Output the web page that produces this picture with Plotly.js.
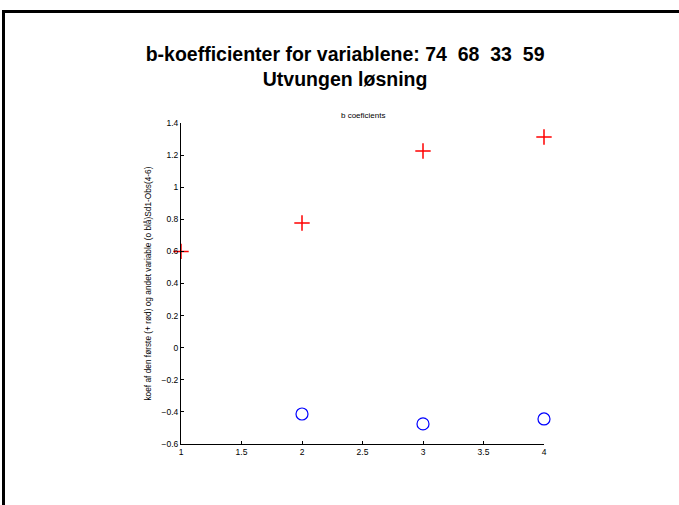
<!DOCTYPE html>
<html>
<head>
<meta charset="utf-8">
<script src="https://cdn.plot.ly/plotly-3.0.1.min.js"></script>
<style>
html,body{margin:0;padding:0;background:#fff;}
#wrap{position:relative;width:679px;height:505px;overflow:hidden;}
#chart{position:absolute;left:0;top:0;width:679px;height:505px;}
#frame{position:absolute;left:2px;top:10px;width:800px;height:600px;border-left:3px solid #000;border-top:3px solid #000;pointer-events:none;}
</style>
</head>
<body>
<div id="wrap"><div id="chart"></div><div id="frame"></div></div>
<script>
// Data
const xFirst = [1, 2, 3, 4];
const firstVariable = [0.60, 0.777, 1.226, 1.313];   // red '+'
const xSecond = [2, 3, 4];
const secondVariable = [-0.413, -0.475, -0.444];     // blue 'o'

const titleLines = ['b-koefficienter for variablene: 74  68  33  59', 'Utvungen løsning'];
const subTitle = 'b coeficients';
const yTitle = 'koef af den første (+ rød) og andet variable (o blå)Sd1-Obs(4-6)';

const traces = [
  {
    x: xFirst, y: firstVariable, type: 'scatter', mode: 'markers',
    marker: {symbol: 'cross-thin-open', size: 11, color: '#ff0000', line: {color: '#ff0000', width: 1.5}},
    cliponaxis: false, showlegend: false, hoverinfo: 'none'
  },
  {
    x: xSecond, y: secondVariable, type: 'scatter', mode: 'markers',
    marker: {symbol: 'circle-open', size: 12, color: '#0000ff', line: {color: '#0000ff', width: 1.2}},
    cliponaxis: false, showlegend: false, hoverinfo: 'none'
  }
];

const FONT = 'Liberation Sans, Arial, sans-serif';
const axisCommon = {
  showline: true, linecolor: '#000', linewidth: 1,
  ticks: 'inside', ticklen: 3, tickcolor: '#000', tickwidth: 1,
  showgrid: false, zeroline: false,
  tickfont: {family: FONT, size: 8.5, color: '#000'},
  mirror: false
};

const layout = {
  width: 679, height: 505,
  paper_bgcolor: '#fff', plot_bgcolor: '#fff',
  margin: {l: 181, r: 135, t: 123, b: 61, pad: 0},
  font: {family: FONT, color: '#000'},
  title: {
    text: titleLines.map(s => '<b>' + s + '</b>').join('<br>'),
    font: {family: FONT, size: 19.5, color: '#000'},
    x: 0.452, xanchor: 'center', xref: 'paper',
    y: 1, yanchor: 'bottom', yref: 'paper', pad: {b: 62}
  },
  xaxis: Object.assign({}, axisCommon, {
    range: [1, 4], tickmode: 'linear', tick0: 1, dtick: 0.5
  }),
  yaxis: Object.assign({}, axisCommon, {
    range: [-0.6, 1.4], tickmode: 'linear', tick0: -0.6, dtick: 0.2,
    title: {text: yTitle, font: {family: FONT, size: 8.3, color: '#000'}, standoff: 8}
  }),
  annotations: [
    {text: subTitle, xref: 'paper', yref: 'paper', x: 0.5, y: 1.0, yshift: 8,
     xanchor: 'center', yanchor: 'middle', showarrow: false,
     font: {family: FONT, size: 8, color: '#000'}}
  ]
};

Plotly.newPlot('chart', traces, layout, {staticPlot: true, displayModeBar: false});
</script>
</body>
</html>
